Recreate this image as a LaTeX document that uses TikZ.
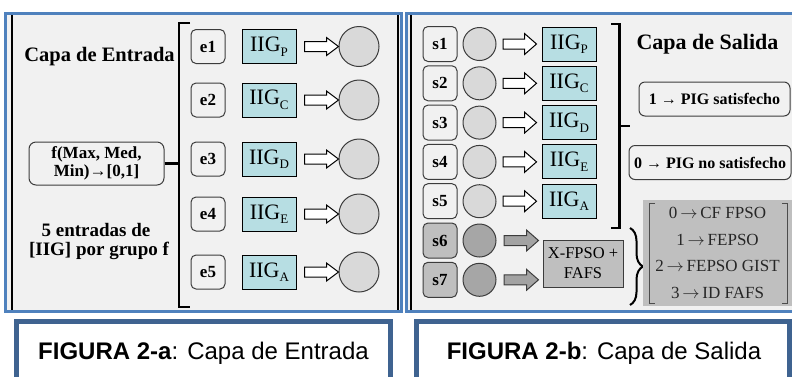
\documentclass[tikz,border=0pt]{standalone}
\usepackage{fontspec}
\setmainfont{Liberation Serif}
\newfontfamily\capfont{Liberation Sans}
\usetikzlibrary{calc,decorations.pathreplacing}

\definecolor{panelbg}{HTML}{F1F1F1}
\definecolor{panelblue}{HTML}{4F81BD}
\definecolor{capblue}{HTML}{3F6390}
\definecolor{iigfill}{HTML}{B7DEE3}
\definecolor{lightdot}{HTML}{D9D9D9}
\definecolor{darkdot}{HTML}{A6A6A6}
\definecolor{grayfill}{HTML}{BFBFBF}
\definecolor{arrowgray}{HTML}{A3A3A3}
\definecolor{edgegray}{HTML}{3C3C3C}

% IIG label with a lowered capital subscript
\newcommand{\iiglabel}[1]{IIG\raisebox{-4.5pt}{\fontsize{13}{13}\selectfont #1}}
% code line of the output table: digit, arrow, meaning
\newcommand{\codeline}[2]{#1\,$\rightarrow$\,#2}

% block arrow from point #2 to point #3, half shaft #4, half head #5
\newcommand{\blockarrow}[5]{%
  \draw[#1] let \p1=(#2), \p2=(#3) in
    (\x1,\y1-#4) -- (\x2-12pt,\y1-#4) -- (\x2-12pt,\y1-#5) -- (\x2,\y1)
    -- (\x2-12pt,\y1+#5) -- (\x2-12pt,\y1+#4) -- (\x1,\y1+#4) -- cycle;}

\begin{document}
\begin{tikzpicture}[x=1pt,y=-1pt,
  panel/.style={draw=panelblue, line width=3pt, fill=panelbg},
  sideline/.style={draw=black, line width=2.2pt},
  capbox/.style={draw=capblue, line width=4.5pt, fill=white},
  captext/.style={font=\capfont\fontsize{24}{24}\selectfont, inner sep=0pt},
  title/.style={font=\bfseries\fontsize{20.5}{24}\selectfont, inner sep=0pt},
  subtitle/.style={font=\bfseries\fontsize{19}{19}\selectfont, inner sep=0pt},
  tag/.style={draw=edgegray, line width=1pt, rounded corners=5pt,
    minimum width=34pt, minimum height=34pt, inner sep=0pt,
    font=\bfseries\fontsize{17}{17}\selectfont},
  iig/.style={draw=black, line width=1pt, fill=iigfill, minimum width=54pt,
    minimum height=34pt, inner sep=0pt, font=\fontsize{22}{22}\selectfont},
  ldot/.style={circle, draw=edgegray, fill=lightdot, line width=1pt,
    minimum size=40pt, inner sep=0pt},
  sdot/.style={circle, draw=edgegray, fill=lightdot, line width=1pt,
    minimum size=33pt, inner sep=0pt},
  hollow/.style={draw=black, fill=white, line width=1pt, line join=miter},
  grayarrow/.style={draw=edgegray, fill=arrowgray, line width=1pt, line join=miter},
  bracket/.style={draw=black, line width=2.2pt},
  fbox/.style={draw=edgegray, line width=1pt, rounded corners=7pt,
    minimum width=135pt, minimum height=43pt, inner sep=0pt, align=center,
    font=\bfseries\fontsize{17}{18}\selectfont},
  outbox/.style={draw=edgegray, line width=1pt, rounded corners=6pt,
    minimum height=34pt, inner sep=0pt, font=\bfseries\fontsize{16}{16}\selectfont},
  xfbox/.style={draw=edgegray, line width=1pt, fill=grayfill, minimum width=80pt,
    minimum height=47pt, inner sep=0pt, align=center,
    font=\fontsize{16.5}{20}\selectfont},
  matbox/.style={fill=grayfill, minimum width=149pt, minimum height=106pt, inner sep=0pt},
  matline/.style={font=\fontsize{17}{17}\selectfont, text=black!85, inner sep=0pt},
  mbr/.style={draw=black!70, line width=0.8pt}
]
\useasboundingbox (0,0) rectangle (792,376);
\clip (0,0) rectangle (792,376);

% ---------- frames ----------
\draw[panel] (5.5,13.5) rectangle (401.5,311.5);
\draw[panel] (406.5,13.5) rectangle (796,311.5);
\draw[sideline] (11.8,15) -- (11.8,310);
\draw[sideline] (398,15) -- (398,310);
\draw[sideline] (411,15) -- (411,310);

\draw[capbox] (16.5,321.5) rectangle (390.5,390);
\draw[capbox] (416.5,321.5) rectangle (789.5,390);
\node[captext, anchor=base] (capA) at (203.5,359) {\textbf{FIGURA 2-a}: Capa de Entrada};
\node[captext, anchor=base] (capB) at (604,359) {\textbf{FIGURA 2-b}: Capa de Salida};

% ---------- input layer ----------
\node[title, anchor=base] (tin) at (99.5,61.5) {Capa de Entrada};
\node[fbox] (f) at (96.5,163.5) {f(Max, Med,\\Min)→[0,1]};
\node[subtitle, anchor=base] (n1) at (96,236.5) {5 entradas de};
\node[subtitle, anchor=base] (n2) at (99,255) {[IIG] por grupo f};

\foreach \i/\yy/\sb in {1/46.5/P,2/100/C,3/159/D,4/214/E,5/272/A}{
  \node[tag] (e\i) at (208,\yy) {e\i};
  \node[iig] (L\i) at (269,\yy) {\iiglabel{\sb}};
  \node[ldot] (c\i) at (359,\yy) {};
  \blockarrow{hollow}{$(L\i.east)+(8,0)$}{c\i.west}{5pt}{9pt}
}

% bracket grouping the inputs
\coordinate (lbt) at (190,23);
\coordinate (lbb) at (190,307);
\coordinate (lbm) at (179,163.5);
\draw[bracket] (lbt) -- (179,23) -- (179,307) -- (lbb);
\draw[bracket] (f.east) -- (lbm);

% ---------- output layer ----------
\foreach \i/\yy in {1/44,2/83.3,3/122.6,4/161.9,5/201.2}{
  \node[tag, minimum height=35pt] (s\i) at (440,\yy) {s\i};
  \node[sdot] (rc\i) at (479.5,\yy) {};
}
\foreach \i/\yy in {6/240.5,7/279.8}{
  \node[tag, minimum height=35pt, fill=grayfill] (s\i) at (440,\yy) {s\i};
  \node[sdot, fill=darkdot] (rc\i) at (479.5,\yy) {};
}
\foreach \i/\yy/\sb in {1/44/P,2/83.3/C,3/122.6/D,4/161.9/E,5/201.2/A}{
  \node[iig] (R\i) at (569,\yy) {\iiglabel{\sb}};
  \blockarrow{hollow}{$(rc\i.east)+(6.5,0)$}{$(R\i.west)+(-5,0)$}{5pt}{10.5pt}
}
\node[xfbox] (xf) at (583,263.5) {X-FPSO +\\FAFS};
\foreach \i in {6,7}{
  \blockarrow{grayarrow}{$(rc\i.east)+(7.5,0)$}{$(xf.west)+(-4,0)$}{5pt}{10.5pt}
}

% bracket grouping the IIG outputs
\coordinate (rbt) at (611,24);
\coordinate (rbb) at (611,228);
\coordinate (rbm) at (630,126);
\draw[bracket] (rbt) -- (619.5,24) -- (619.5,228) -- (rbb);
\draw[bracket] (619.5,126) -- (rbm);

\node[title, font=\bfseries\fontsize{22}{24}\selectfont, anchor=base] (tout) at (707.5,49.3) {Capa de Salida};
\node[outbox, minimum width=151pt] (sat) at (714.5,99) {1 → PIG satisfecho};
\node[outbox, minimum width=162pt] (nsat) at (710,162.5) {0 → PIG no satisfecho};

% brace and code table
\draw[bracket, line width=2pt, decorate, decoration={brace, amplitude=13pt}] (630,228) -- (630,305);
\node[matbox] (mat) at (717.5,253) {};
\draw[mbr] (655,203) -- (649,203) -- (649,303) -- (655,303);
\draw[mbr] (782,203) -- (787.5,203) -- (787.5,303) -- (782,303);
\node[matline] (m0) at (717.5,213) {\codeline{0}{CF FPSO}};
\node[matline] (m1) at (717.5,239.5) {\codeline{1}{FEPSO}};
\node[matline] (m2) at (717.5,266) {\codeline{2}{FEPSO GIST}};
\node[matline] (m3) at (717.5,292.5) {\codeline{3}{ID FAFS}};
\end{tikzpicture}
\end{document}
